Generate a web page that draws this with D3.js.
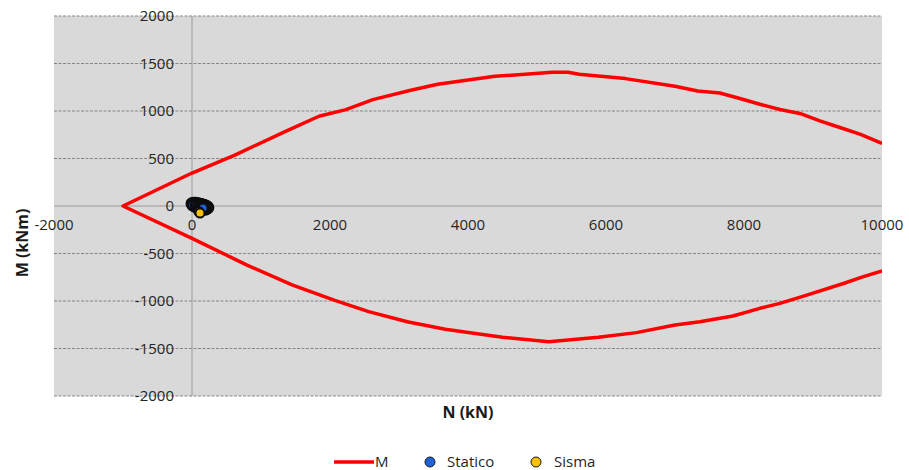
<!DOCTYPE html>
<html>
<head>
<meta charset="utf-8">
<script src="https://cdn.jsdelivr.net/npm/d3@7"></script>
<style>
  html, body { margin: 0; padding: 0; background: #fff; }
  svg { display: block; font-family: "Open Sans", sans-serif; }
</style>
</head>
<body>
<svg id="chart" width="909" height="470"></svg>
<script>
// Interaction domain N-M (kN, kNm): outline traced from the upper branch back to the tip, then along the lower branch
const domainN = [10000, 9680, 9390, 9100, 8810, 8520, 8230, 7940, 7650, 7330, 7000, 6280, 5610, 5450, 5220, 4390, 3560, 3170, 2620, 2230, 1840, 1340, 620, 0, -1000,
                 0, 790, 1450, 2060, 2560, 3120, 3670, 4500, 5170, 5890, 6440, 7000, 7360, 7840, 8230, 8520, 8910, 9440, 9720, 10000];
const domainM = [658, 756, 826, 896, 974, 1016, 1071, 1131, 1190, 1211, 1260, 1341, 1386, 1407, 1407, 1365, 1281, 1218, 1120, 1015, 945, 780, 536, 347, 0,
                 -340, -620, -830, -990, -1112, -1218, -1298, -1382, -1428, -1382, -1333, -1252, -1218, -1158, -1077, -1025, -938, -816, -746, -683];

// Load combinations: static
const staticoN = [0, 20, 40, 60, 80, 100, 120, 140, 160, 180, 200, 220, 230, 210, 190, 170, 150, 130, 110, 90, 70, 50, 30, 10, 60, 100, 140, 180, 120, 160];
const staticoM = [25, 30, 30, 28, 25, 22, 18, 14, 10, 5, 0, -8, -18, -28, -32, -34, -34, -30, -26, -20, -12, -4, 4, 12, 10, 0, -8, -16, -12, -22];

// Load combinations: seismic
const sismaN = [100, 116];
const sismaM = [-60, -74];

const xTicks = [-2000, 0, 2000, 4000, 6000, 8000, 10000];
const yTicks = [-2000, -1500, -1000, -500, 0, 500, 1000, 1500, 2000];

const seriesNames = ["M", "Statico", "Sisma"];
const colors = { M: "#ff0000", Statico: "#1f62d6", Sisma: "#f7c300" };

const plot = { left: 54, right: 882, top: 16, bottom: 396 };
const svg = d3.select("#chart");

const x = d3.scaleLinear().domain([-2000, 10000]).range([plot.left, plot.right]);
const y = d3.scaleLinear().domain([-2000, 2000]).range([plot.bottom, plot.top]);

// plot area
svg.append("rect")
  .attr("x", plot.left).attr("y", plot.top)
  .attr("width", plot.right - plot.left).attr("height", plot.bottom - plot.top)
  .attr("fill", "#d9d9d9");

svg.append("clipPath").attr("id", "plotClip")
  .append("rect")
  .attr("x", plot.left).attr("y", plot.top)
  .attr("width", plot.right - plot.left).attr("height", plot.bottom - plot.top);

// horizontal dashed gridlines
svg.append("g")
  .selectAll("line")
  .data(yTicks.filter(d => d !== 0))
  .join("line")
  .attr("x1", plot.left).attr("x2", plot.right)
  .attr("y1", d => y(d)).attr("y2", d => y(d))
  .attr("stroke", "#868686")
  .attr("stroke-width", 1)
  .attr("stroke-dasharray", "3,1.5");

// axes through the origin
svg.append("line")
  .attr("x1", plot.left).attr("x2", plot.right)
  .attr("y1", y(0)).attr("y2", y(0))
  .attr("stroke", "#9a9a9a").attr("stroke-width", 1);
svg.append("line")
  .attr("x1", x(0)).attr("x2", x(0))
  .attr("y1", plot.top).attr("y2", plot.bottom)
  .attr("stroke", "#9a9a9a").attr("stroke-width", 1);

// tick labels
svg.append("g")
  .selectAll("text")
  .data(yTicks)
  .join("text")
  .attr("x", x(0) - 18)
  .attr("y", d => y(d))
  .attr("dy", "0.36em")
  .attr("text-anchor", "end")
  .attr("font-size", 15)
  .attr("fill", "#262626")
  .text(d => d);

svg.append("g")
  .selectAll("text")
  .data(xTicks)
  .join("text")
  .attr("x", d => x(d))
  .attr("y", y(0) + 24)
  .attr("text-anchor", "middle")
  .attr("font-size", 15)
  .attr("fill", "#262626")
  .text(d => d);

// axis titles
svg.append("text")
  .attr("x", (plot.left + plot.right) / 2)
  .attr("y", 418)
  .attr("text-anchor", "middle")
  .attr("font-size", 16)
  .attr("font-weight", "bold")
  .attr("fill", "#1a1a1a")
  .text("N (kN)");

svg.append("text")
  .attr("transform", "translate(28,243) rotate(-90)")
  .attr("text-anchor", "middle")
  .attr("font-size", 16)
  .attr("font-weight", "bold")
  .attr("fill", "#1a1a1a")
  .text("M (kNm)");

// interaction domain outline
const outline = domainN.map((n, i) => [n, domainM[i]]);
svg.append("path")
  .datum(outline)
  .attr("clip-path", "url(#plotClip)")
  .attr("fill", "none")
  .attr("stroke", colors.M)
  .attr("stroke-width", 3.5)
  .attr("stroke-linejoin", "round")
  .attr("d", d3.line().x(d => x(d[0])).y(d => y(d[1])));

// load points
function drawPoints(ns, ms, color, r, sw) {
  svg.append("g")
    .selectAll("circle")
    .data(ns.map((n, i) => [n, ms[i]]))
    .join("circle")
    .attr("cx", d => x(d[0]))
    .attr("cy", d => y(d[1]))
    .attr("r", r)
    .attr("fill", color)
    .attr("stroke", "#0d0d0d")
    .attr("stroke-width", sw);
}
drawPoints(staticoN, staticoM, colors.Statico, 5, 3);
drawPoints(sismaN, sismaM, colors.Sisma, 4.5, 2);

// legend
const legend = svg.append("g").attr("font-size", 15).attr("fill", "#262626");
const ly = 462;
legend.append("line")
  .attr("x1", 334).attr("x2", 374).attr("y1", ly).attr("y2", ly)
  .attr("stroke", colors.M).attr("stroke-width", 3.5);
legend.append("text").attr("x", 375).attr("y", ly).attr("dy", "0.36em").text(seriesNames[0]);
legend.append("circle").attr("cx", 430).attr("cy", ly).attr("r", 5)
  .attr("fill", colors.Statico).attr("stroke", "#1a1a1a").attr("stroke-width", 1);
legend.append("text").attr("x", 447).attr("y", ly).attr("dy", "0.36em").text(seriesNames[1]);
legend.append("circle").attr("cx", 536).attr("cy", ly).attr("r", 5)
  .attr("fill", colors.Sisma).attr("stroke", "#1a1a1a").attr("stroke-width", 1);
legend.append("text").attr("x", 554).attr("y", ly).attr("dy", "0.36em").text(seriesNames[2]);
</script>
</body>
</html>
